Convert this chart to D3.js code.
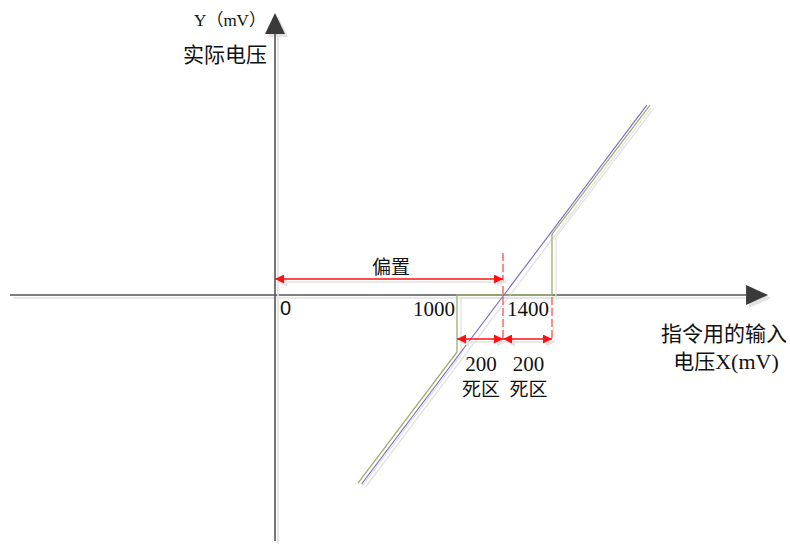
<!DOCTYPE html>
<html><head><meta charset="utf-8">
<script src="https://cdn.jsdelivr.net/npm/d3@7"></script>
<style>body{margin:0;background:#fff}svg{display:block}</style>
</head><body><svg id="c" width="790" height="544"></svg>
<script>
// ---- data (mV) ----
const offsetX = 1200;                // 偏置
const deadZone = [1000, 1400];       // 死区边界
const deadWidth = 200;
const xAxisExtent = [-1456, 2282];   // x axis from .. to arrow tip
const yAxisExtent = [-820, 940];     // y axis from .. to arrow tip
const idealLine = [[476, -630], [1787, 633]];           // 蓝线
const actualLine = [[456, -627], [1000, -190], [1000, 0], [1400, 0], [1400, 203], [1800, 633]]; // 绿线
const tickValues = [0, 1000, 1400];
const tickLabels = ["0", "1000", "1400"];

// ---- scales ----
const x = d3.scaleLinear().domain([0, deadZone[0], offsetX, deadZone[1]]).range([275, 457, 503, 552]);
const y = d3.scaleLinear().domain([0, 1000]).range([295, -5]);

const svg = d3.select("#c");
const shadow = "#e2e2e2";
const axisCol = "#555";
const red = "#ff1010";

// defs: red arrowheads
const defs = svg.append("defs");
function mk(id, col) {
  defs.append("marker").attr("id", id).attr("viewBox", "0 0 10 10").attr("refX", 10).attr("refY", 5)
    .attr("markerWidth", 11).attr("markerHeight", 9).attr("markerUnits", "userSpaceOnUse")
    .attr("orient", "auto-start-reverse")
    .append("path").attr("d", "M0,0L10,5L0,10Z").attr("fill", col);
}
mk("ar", red); mk("ars", shadow);

const line = d3.line().x(d => x(d[0])).y(d => y(d[1]));

// ---- axes ----
function axis(p1, p2, tipLen, half) {
  const g = svg.append("g");
  [[shadow, 3], [axisCol, 0]].forEach(([c, o]) => {
    const gg = g.append("g").attr("transform", `translate(${o},${o})`);
    const dx = p2[0] - p1[0], dy = p2[1] - p1[1], L = Math.hypot(dx, dy), ux = dx / L, uy = dy / L;
    const bx = p2[0] - ux * tipLen, by = p2[1] - uy * tipLen;
    gg.append("line").attr("x1", p1[0]).attr("y1", p1[1]).attr("x2", bx).attr("y2", by)
      .attr("stroke", c).attr("stroke-width", 1.6);
    gg.append("path").attr("d", `M${p2[0]},${p2[1]}L${bx - uy * half},${by + ux * half}L${bx + uy * half},${by - ux * half}Z`)
      .attr("fill", c === shadow ? shadow : "#3a3a3a");
  });
}
axis([x(xAxisExtent[0]), y(0)], [x(xAxisExtent[1]), y(0)], 22, 10);
axis([x(0), y(yAxisExtent[0])], [x(0), y(yAxisExtent[1])], 21, 10);

// ---- characteristic lines ----
[[idealLine, "#7b66c4"], [actualLine, "#a3ae78"]].forEach(([d, c]) => {
  svg.append("path").attr("d", line(d)).attr("fill", "none").attr("stroke", shadow).attr("stroke-width", 1.3)
    .attr("transform", "translate(4,3)");
});
svg.append("path").attr("d", line(actualLine)).attr("fill", "none").attr("stroke", "#9fae6e").attr("stroke-width", 1.3);
svg.append("path").attr("d", line(idealLine)).attr("fill", "none").attr("stroke", "#7b66c4").attr("stroke-width", 1.1);

// ---- red dashed guides ----
const dash = [[offsetX, 140, -150], [deadZone[1], -7, -150]];
dash.forEach(([v, a, b]) => {
  svg.append("line").attr("x1", x(v)).attr("x2", x(v)).attr("y1", y(a)).attr("y2", y(b))
    .attr("stroke", "#ff4d4d").attr("stroke-width", 1.3).attr("stroke-dasharray", "8,3");
});

// ---- red double arrows ----
function dblArrow(v1, v2, py) {
  [[shadow, "ars", 3], [red, "ar", 0]].forEach(([c, m, o]) => {
    svg.append("line").attr("x1", x(v1) + o).attr("x2", x(v2) + o).attr("y1", py + o).attr("y2", py + o)
      .attr("stroke", c).attr("stroke-width", 1.5)
      .attr("marker-start", `url(#${m})`).attr("marker-end", `url(#${m})`);
  });
}
dblArrow(0, offsetX, y(0) - 16);
dblArrow(deadZone[0], offsetX, y(0) + 44);
dblArrow(offsetX, deadZone[1], y(0) + 44);

// ---- text ----
const cjk = "'Noto Sans CJK SC', sans-serif";
const serif = "'Liberation Serif', 'Noto Sans CJK SC', serif";
function txt(s, px, py, size, fam, anchor) {
  return svg.append("text").attr("x", px).attr("y", py).attr("font-size", size).attr("font-family", fam)
    .attr("text-anchor", anchor || "middle").attr("fill", "#111").text(s);
}
txt("偏置", (x(0) + x(offsetX)) / 2 + 2, y(0) - 21, 19, cjk);
// tick labels
txt(tickLabels[0], x(tickValues[0]) + 5, y(0) + 20, 20, "'Liberation Sans', Arial, sans-serif", "start");
txt(tickLabels[1], x(tickValues[1]) - 2, y(0) + 21, 21, serif, "end");
txt(tickLabels[2], x(tickValues[2]) - 3, y(0) + 21, 21, serif, "end");
// dead zone labels
[[deadZone[0], offsetX], [offsetX, deadZone[1]]].forEach(([a, b]) => {
  const cx = (x(a) + x(b)) / 2 + 1;
  txt(String(deadWidth), cx, y(0) + 76, 21, serif);
  txt("死区", cx, y(0) + 101, 19, cjk);
});
// axis titles
const yt = txt("", 230, 26, 17, serif);
yt.append("tspan").text("Y");
yt.append("tspan").attr("font-family", cjk).text("（");
yt.append("tspan").text("mV");
yt.append("tspan").attr("font-family", cjk).text("）");
txt("实际电压", 225, 62, 21, cjk);
txt("指令用的输入", 724, 341, 21, cjk);
const xt = txt("", 726, 369, 21, cjk);
xt.append("tspan").text("电压");
xt.append("tspan").attr("font-family", serif).attr("font-size", 22).text("X(mV)");
</script></body></html>
